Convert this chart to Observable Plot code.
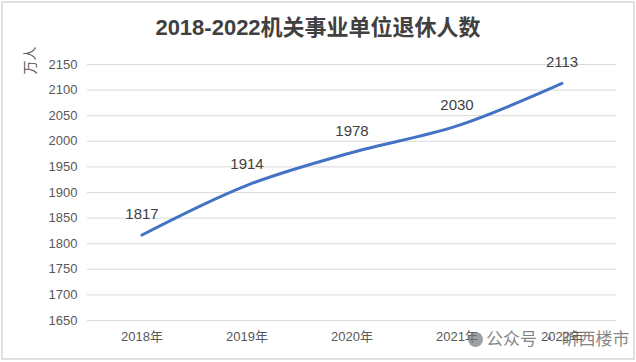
<!DOCTYPE html>
<html><head><meta charset="utf-8">
<script src="https://cdn.jsdelivr.net/npm/d3@7"></script>
<script src="https://cdn.jsdelivr.net/npm/@observablehq/plot@0.6"></script>
<style>
body{margin:0;background:#fff;}
#wrap{position:relative;width:636px;height:362px;overflow:hidden;background:#fff;}
#frame{position:absolute;left:1px;top:1px;width:630px;height:355px;border:2px solid #e0e0e0;pointer-events:none;}
#title{height:32px;padding-top:8px;line-height:40px;text-align:center;font-family:"Liberation Sans","Noto Sans CJK SC",sans-serif;font-weight:bold;font-size:22px;color:#404040;}
#wm{position:absolute;left:468px;top:325px;font-family:"Noto Sans CJK SC",sans-serif;font-size:17px;color:rgba(110,110,110,0.85);white-space:nowrap;}
#wm .ic{display:inline-block;width:15px;height:15px;border-radius:50%;background:rgba(120,120,120,0.7);vertical-align:-2px;margin-right:3px;}
</style>
</head><body>
<div id="wrap">
<div id="title">2018-2022机关事业单位退休人数</div>
<div id="chart"></div>
<div id="wm"><span class="ic"></span>公众号 · 昕西楼市</div>
<div id="frame"></div>
</div>
<script>
const years = ["2018年","2019年","2020年","2021年","2022年"];
const values = [1817,1914,1978,2030,2113];
const yTicks = [1650,1700,1750,1800,1850,1900,1950,2000,2050,2100,2150];
const unitLabel = "万人";

const data = years.map((y,i)=>({year:y,value:values[i]}));
const font = '"Liberation Sans","Noto Sans CJK SC",sans-serif';

const chart = Plot.plot({
  width:636, height:322,
  marginLeft:87, marginRight:20, marginTop:24, marginBottom:42,
  style:{fontFamily:font, fontSize:"13px", color:"#595959", background:"transparent"},
  x:{type:"band", domain:years, label:null, padding:0, tickSize:0, tickPadding:10},
  y:{domain:[1650,2150], ticks:yTicks, label:null, tickSize:0, tickPadding:10, tickFormat:d=>String(d)},
  marks:[
    Plot.gridY(yTicks,{stroke:"#d9d9d9", strokeOpacity:1, strokeWidth:1}),
    Plot.axisX({tickSize:0, tickPadding:11, fontSize:13}),
    Plot.axisY({ticks:yTicks, tickSize:0, tickPadding:10, fontSize:13, label:null, tickFormat:d=>String(d)}),
    Plot.line(data,{x:"year", y:"value", stroke:"#4472C4", strokeWidth:3, curve:"catmull-rom"}),
    Plot.text(data,{x:"year", y:"value", text:d=>String(d.value), dy:-21, fontSize:15, fill:"#404040"}),
    Plot.text([unitLabel],{frameAnchor:"top-left", dx:-62, dy:-4, rotate:-90, textAnchor:"middle", fontSize:14, fill:"#595959", text:d=>d})
  ]
});
document.getElementById("chart").appendChild(chart);
</script>
</body></html>
